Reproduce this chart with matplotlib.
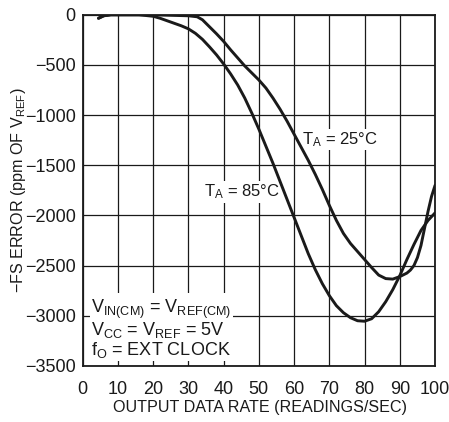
import matplotlib
matplotlib.use("Agg")
import matplotlib.pyplot as plt
from matplotlib import font_manager

# ── Data ──────────────────────────────────────────────────
rate_25 = [4.5, 6, 8, 12, 16, 20, 25, 30, 32.5, 34, 36, 38, 40, 42, 44, 46,
           48, 50, 52, 54, 56, 58, 60, 62, 64, 66, 68, 70, 72, 74, 76, 78,
           80, 82, 84, 86, 88, 90, 92, 93, 94, 95, 96, 97, 98, 99, 100]
err_25 = [-35, -10, 0, 0, 0, 0, -5, -10, -20, -50, -120, -190, -265, -350,
          -430, -510, -580, -650, -730, -830, -940, -1060, -1190, -1320,
          -1450, -1590, -1740, -1900, -2050, -2180, -2280, -2360, -2440,
          -2520, -2595, -2630, -2635, -2610, -2575, -2545, -2500, -2420,
          -2300, -2130, -1960, -1810, -1700]

rate_85 = [4.5, 6, 8, 12, 16, 20, 22, 24, 26, 28, 30, 32, 34, 36, 38, 40, 42,
           44, 46, 48, 50, 52, 54, 56, 58, 60, 62, 64, 66, 68, 70, 72, 74, 76,
           78, 80, 82, 84, 86, 88, 90, 92, 94, 96, 98, 100]
err_85 = [-35, -10, 0, 0, 0, -15, -35, -60, -85, -110, -140, -185, -245, -320,
          -400, -490, -590, -700, -830, -980, -1140, -1310, -1480, -1660,
          -1840, -2020, -2200, -2380, -2540, -2680, -2800, -2900, -2970,
          -3020, -3050, -3055, -3030, -2960, -2860, -2740, -2600, -2440,
          -2290, -2150, -2050, -1975]

x_ticks = list(range(0, 101, 10))
y_ticks = list(range(-3500, 1, 500))

# ── Font ──────────────────────────────────────────────────
names = {f.name for f in font_manager.fontManager.ttflist}
FONT = "Liberation Sans Narrow" if "Liberation Sans Narrow" in names else "Liberation Sans"
plt.rcParams["font.family"] = [FONT, "DejaVu Sans"]
plt.rcParams["mathtext.fontset"] = "custom"
plt.rcParams["mathtext.rm"] = FONT
plt.rcParams["mathtext.it"] = FONT
plt.rcParams["axes.unicode_minus"] = True

INK = "#1a1a1a"

fig = plt.figure(figsize=(4.49, 4.22), dpi=100)
ax = fig.add_axes([0.184, 0.133, 0.785, 0.832])

ax.plot(rate_25, err_25, color=INK, lw=2.1, solid_capstyle="round", zorder=4)
ax.plot(rate_85, err_85, color=INK, lw=2.1, solid_capstyle="round", zorder=4)

ax.set_xlim(0, 100)
ax.set_ylim(-3500, 0)
ax.set_xticks(x_ticks)
ax.set_yticks(y_ticks)
ax.set_yticklabels([f"{v}".replace("-", "\u2212") for v in y_ticks])
ax.tick_params(length=0, labelsize=13, colors=INK)
ax.tick_params(axis="x", pad=11)
ax.tick_params(axis="y", pad=5)
ax.grid(True, color=INK, lw=0.9)
ax.set_axisbelow(True)
for s in ax.spines.values():
    s.set_linewidth(1.3)
    s.set_color(INK)

ax.set_xlabel("OUTPUT DATA RATE (READINGS/SEC)", fontsize=11.6, color=INK)
ax.xaxis.set_label_coords(0.504, -0.098)
ax.set_ylabel("\u2212FS ERROR (ppm OF V$_{\\mathregular{REF}}$)", fontsize=11.6, color=INK)
ax.yaxis.set_label_coords(-0.155, 0.5)

ax.text(62.3, -1246, "T$_{\\mathregular{A}}$ = 25°C", fontsize=12, ha="left", va="center",
        color=INK, bbox=dict(fc="white", ec="none", pad=1), zorder=3)
ax.text(34.3, -1765, "T$_{\\mathregular{A}}$ = 85°C", fontsize=12, ha="left", va="center",
        color=INK, bbox=dict(fc="white", ec="none", pad=1), zorder=3)

ax.text(2.5, -3130,
        "V$_{\\mathregular{IN(CM)}}$ = V$_{\\mathregular{REF(CM)}}$\n"
        "V$_{\\mathregular{CC}}$ = V$_{\\mathregular{REF}}$ = 5V\n"
        "f$_{\\mathregular{O}}$ = EXT CLOCK",
        fontsize=13, ha="left", va="center", linespacing=0.95, color=INK,
        bbox=dict(fc="white", ec="none", pad=1), zorder=3)

fig.savefig("out.png", dpi=100)
